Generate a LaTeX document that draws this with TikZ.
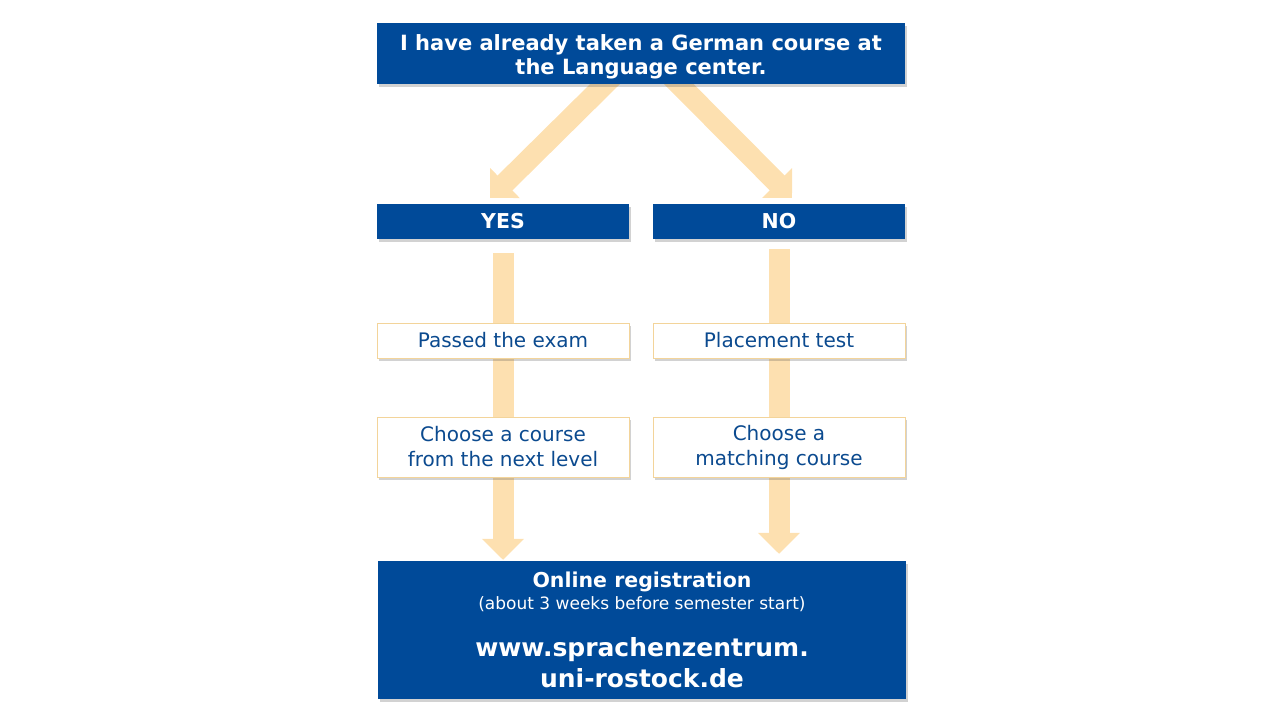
\documentclass[tikz,border=0pt]{standalone}
\usepackage{fontspec}
\setmainfont{DejaVu Sans}
\usetikzlibrary{arrows.meta,shadows,calc,backgrounds}
\definecolor{uniblue}{HTML}{004A99}
\definecolor{txtblue}{HTML}{0B4A8F}
\definecolor{peach}{HTML}{FDE0B0}
\definecolor{peachedge}{HTML}{F3D49A}
\newcommand{\regsmall}{\fontsize{17}{20}\selectfont\mdseries}
\newcommand{\regbig}{\fontsize{25}{30}\selectfont\bfseries}
\tikzset{
  boxshadow/.style={drop shadow={shadow xshift=2pt,shadow yshift=-3pt,opacity=0.25,fill=black!70}},
  bluebox/.style={fill=uniblue,text=white,inner sep=0pt,align=center,boxshadow,
    font=\fontsize{20.5}{24}\selectfont\bfseries},
  whitebox/.style={fill=white,draw=peachedge,line width=0.8pt,text=txtblue,inner sep=0pt,align=center,
    minimum width=252pt,boxshadow,font=\fontsize{20}{25}\selectfont},
  bigarrow/.style={draw=peach,line width=21pt,-{Triangle[width=41pt,length=21pt]},color=peach},
}
\begin{document}
\begin{tikzpicture}[x=1pt,y=-1pt]
\useasboundingbox (0,0) rectangle (1280,720);
\node[bluebox,minimum width=528pt,minimum height=61pt,font=\fontsize{21}{24}\selectfont\bfseries] (top) at (641,53.5)
  {\rule{0pt}{22pt}I have already taken a German course at\\the Language center.};
\node[bluebox,minimum width=252pt,minimum height=35pt] (yes) at (503,221.5) {YES};
\node[bluebox,minimum width=252pt,minimum height=35pt] (no) at (779,221.5) {NO};
\node[whitebox,minimum height=35pt] (passed) at (503,340.5) {Passed the exam};
\node[whitebox,minimum height=35pt] (placement) at (779,340.5) {Placement test};
\node[whitebox,minimum height=60pt] (choose1) at (503,447) {Choose a course\\from the next level};
\node[whitebox,minimum height=60pt] (choose2) at (779,447) {Choose a\\matching course};
\node[bluebox,minimum width=528pt,minimum height=138pt] (reg) at (642,630)
  {Online registration\\[-2pt]
   \regsmall (about 3 weeks before semester start)\\[23pt]
   \regbig www.sprachenzentrum.\\[6pt]
   \regbig uni-rostock.de};
\begin{scope}[on background layer]
  \draw[bigarrow] ($(top.south)+(-26,-10)$) -- ($(yes.north)+(-13,-6)$);
  \draw[bigarrow] ($(top.south)+(28,-10)$) -- ($(no.north)+(13,-6)$);
  \draw[bigarrow] ($(yes.south)+(0,14)$) -- ($(yes.south |- reg.north)+(0,-1)$);
  \draw[bigarrow] ($(no.south)+(0,10)$) -- ($(no.south |- reg.north)+(0,-7)$);
\end{scope}
\end{tikzpicture}
\end{document}
